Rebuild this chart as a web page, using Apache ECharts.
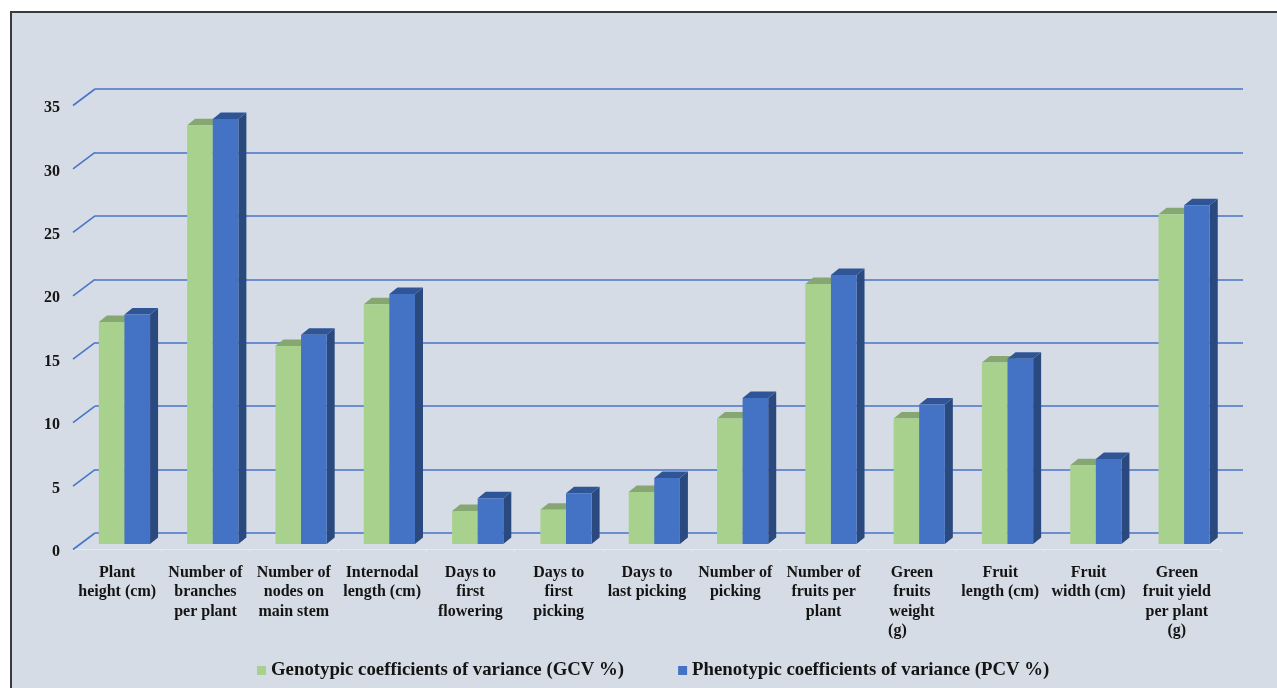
<!DOCTYPE html>
<html>
<head>
<meta charset="utf-8">
<title>GCV and PCV of okra traits</title>
<script src="https://cdn.jsdelivr.net/npm/echarts@6/dist/echarts.min.js"></script>
<style>
  html, body { margin: 0; padding: 0; background: #ffffff; width: 1277px; height: 688px; overflow: hidden; }
  #panel {
    position: absolute; left: 10px; top: 11px; right: 0; bottom: 0;
    background: #D6DCE5;
    border-top: 2px solid #3b3b3b; border-left: 2px solid #3b3b3b;
  }
  #chart { position: absolute; left: 0; top: 0; width: 1277px; height: 688px; }
</style>
</head>
<body>
<div id="panel"></div>
<div id="chart"></div>
<script>
// Trait names (line breaks as printed under each column pair)
const categories = [
  'Plant\nheight (cm)',
  'Number of\nbranches\nper plant',
  'Number of\nnodes on\nmain stem',
  'Internodal\nlength (cm)',
  'Days to\nfirst\nflowering',
  'Days to\nfirst\npicking',
  'Days to\nlast picking',
  'Number of\npicking',
  'Number of\nfruits per\nplant',
  'Green\nfruits\nweight\n(g)',
  'Fruit\nlength (cm)',
  'Fruit\nwidth (cm)',
  'Green\nfruit yield\nper plant\n(g)'
];

// Genotypic coefficients of variance (%)
const gcv = [17.5, 33.0, 15.6, 18.9, 2.6, 2.7, 4.1, 9.9, 20.5, 9.9, 14.3, 6.2, 26.0];
// Phenotypic coefficients of variance (%)
const pcv = [18.1, 33.5, 16.5, 19.7, 3.6, 4.0, 5.2, 11.5, 21.2, 11.0, 14.6, 6.7, 26.7];

// Value-axis ticks
const yTicks = [0, 5, 10, 15, 20, 25, 30, 35];

const seriesNames = [
  'Genotypic coefficients of variance (GCV %)',
  'Phenotypic coefficients of variance (PCV %)'
];

// Pseudo-3D geometry: back wall grid vs. front floor edge, bar placement and depth
const WALL_DX = -22, WALL_DY = 16.5;   // back wall -> front floor edge
const FRONT_DX = -14.7, FRONT_DY = 11; // back wall -> bar front faces
const BAR_DX = 8, BAR_DY = 6.5;        // bar depth (front -> back)
const BAR_FRAC = 0.29;                 // bar width as share of category band

const palette = [
  { front: '#A9D18E', top: '#86A771', side: '#7A9967' },
  { front: '#4472C4', top: '#2F5597', side: '#29497F' }
];

const serifFont = '"Liberation Serif", "Times New Roman", Times, serif';

function barRenderer(k) {
  return function (params, api) {
    const idx = api.value(0);
    const v = api.value(1);
    const pTop = api.coord([idx, v]);
    const pBase = api.coord([idx, 0]);
    const band = api.size([1, 0])[0];
    const bw = band * BAR_FRAC;
    const x0 = pTop[0] + FRONT_DX + (k - 1) * bw;
    const x1 = x0 + bw;
    const yT = pTop[1] + FRONT_DY;
    const yB = pBase[1] + FRONT_DY;
    const c = palette[k];
    return {
      type: 'group',
      children: [
        { type: 'polygon', shape: { points: [[x1, yT], [x1 + BAR_DX, yT - BAR_DY], [x1 + BAR_DX, yB - BAR_DY], [x1, yB]] }, style: { fill: c.side } },
        { type: 'polygon', shape: { points: [[x0, yT], [x0 + BAR_DX, yT - BAR_DY], [x1 + BAR_DX, yT - BAR_DY], [x1, yT]] }, style: { fill: c.top } },
        { type: 'rect', shape: { x: x0, y: yT, width: bw, height: yB - yT }, style: { fill: c.front } }
      ]
    };
  };
}

function wallRenderer(params, api) {
  const v = api.value(0);
  const p = api.coord([0, v]);
  const x = params.coordSys.x;
  return {
    type: 'line',
    shape: { x1: x + WALL_DX, y1: p[1] + WALL_DY, x2: x, y2: p[1] },
    style: { stroke: '#4775C9', lineWidth: 1.6 }
  };
}

const chart = echarts.init(document.getElementById('chart'), null, { renderer: 'canvas' });

chart.setOption({
  backgroundColor: 'transparent',
  animation: false,
  legend: {
    data: seriesNames,
    left: 252,
    top: 656,
    icon: 'rect',
    itemWidth: 9,
    itemHeight: 9,
    itemGap: 54,
    textStyle: { fontFamily: serifFont, fontWeight: 'bold', fontSize: 18.8, color: '#141414' }
  },
  grid: [
    // back wall
    { left: 95, right: 34, top: 89, bottom: 155 },
    // front floor edge plane
    { left: 73, right: 56, top: 105.5, bottom: 138.5 }
  ],
  xAxis: [
    {
      gridIndex: 0, type: 'category', data: categories,
      axisLine: { show: false }, axisTick: { show: false }, axisLabel: { show: false }
    },
    {
      gridIndex: 1, type: 'category', data: categories,
      axisLine: { show: true, lineStyle: { color: '#E6E9EE', width: 1 } },
      axisTick: { show: true, length: 3, lineStyle: { color: '#E6E9EE' } },
      axisLabel: {
        interval: 0, margin: 13.5,
        fontFamily: serifFont, fontWeight: 'bold', fontSize: 16, lineHeight: 19.5, color: '#141414',
        formatter: function (val, i) {
          if (i === 9) {
            const lines = val.split('\n');
            const last = lines.pop();
            return lines.join('\n') + '\n{shift|' + last + '}';
          }
          return val;
        },
        rich: {
          shift: { fontFamily: serifFont, fontWeight: 'bold', fontSize: 16, lineHeight: 19.5, color: '#141414', padding: [0, 29, 0, 0] }
        }
      }
    }
  ],
  yAxis: [
    {
      gridIndex: 0, type: 'value', min: 0, max: 35, interval: 5,
      axisLine: { show: false }, axisTick: { show: false }, axisLabel: { show: false },
      splitLine: { show: true, lineStyle: { color: '#4775C9', width: 1.6 } }
    },
    {
      gridIndex: 1, type: 'value', min: 0, max: 35, interval: 5,
      axisLine: { show: false }, axisTick: { show: false }, splitLine: { show: false },
      axisLabel: {
        margin: 13, verticalAlign: 'top', lineHeight: 5,
        fontFamily: serifFont, fontWeight: 'bold', fontSize: 16, color: '#141414'
      }
    }
  ],
  series: [
    {
      type: 'custom', name: 'wall', xAxisIndex: 0, yAxisIndex: 0,
      data: yTicks.map(function (t) { return [t]; }),
      encode: { y: 0 },
      renderItem: wallRenderer, silent: true
    },
    {
      type: 'custom', name: seriesNames[0], xAxisIndex: 0, yAxisIndex: 0,
      itemStyle: { color: palette[0].front },
      data: gcv.map(function (v, i) { return [i, v]; }),
      encode: { x: 0, y: 1 },
      renderItem: barRenderer(0)
    },
    {
      type: 'custom', name: seriesNames[1], xAxisIndex: 0, yAxisIndex: 0,
      itemStyle: { color: palette[1].front },
      data: pcv.map(function (v, i) { return [i, v]; }),
      encode: { x: 0, y: 1 },
      renderItem: barRenderer(1)
    }
  ]
});
</script>
</body>
</html>
